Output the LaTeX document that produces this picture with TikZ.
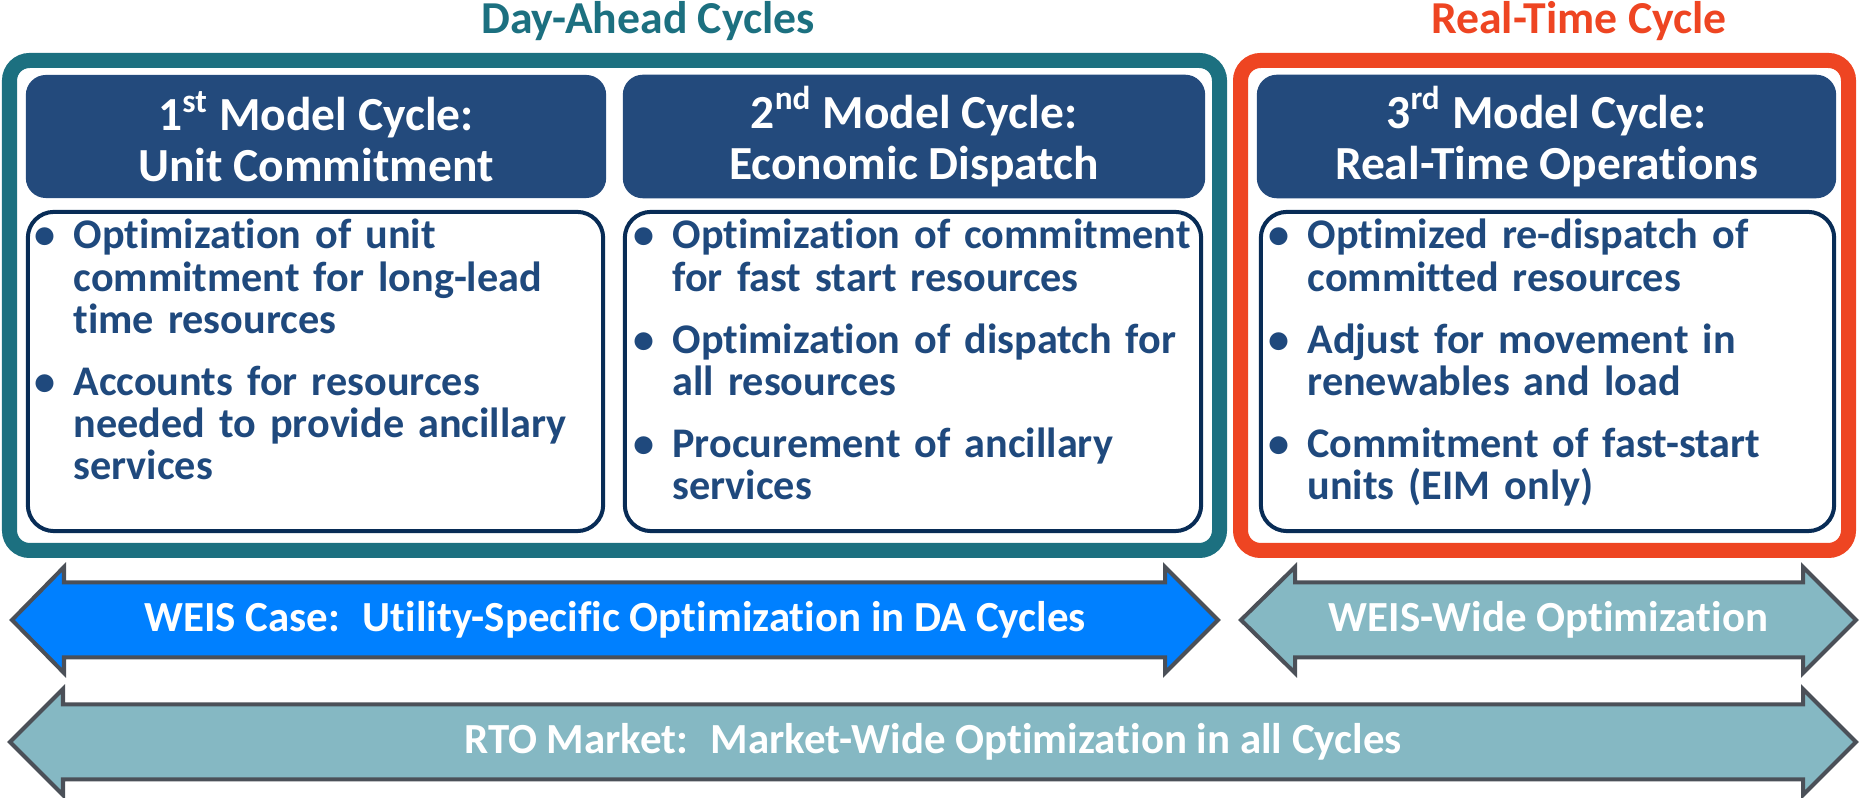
\documentclass[tikz,border=0pt]{standalone}
\usepackage{fontspec}
\setmainfont{Carlito}[Ligatures=NoCommon]
\usetikzlibrary{positioning}

\definecolor{dateal}{RGB}{28,112,128}
\definecolor{rtred}{RGB}{238,69,34}
\definecolor{headblue}{RGB}{35,74,124}
\definecolor{boxnavy}{RGB}{8,44,86}
\definecolor{textblue}{RGB}{31,73,125}
\definecolor{weisblue}{RGB}{0,128,255}
\definecolor{paleteal}{RGB}{133,184,195}
\definecolor{bandgrey}{RGB}{75,80,88}

% one bullet point, wrapped lines hang under the text
\newcommand{\bul}[1]{\hangindent=11.1pt\hangafter=1\noindent\makebox[11.1pt][l]{\textbullet}#1\par\vspace{5.7pt}}

\begin{document}
\begin{tikzpicture}[x=0.01cm, y=-0.01cm,
        cycletitle/.style={font=\fontsize{13}{15}\selectfont\bfseries, text height=0.63em, text depth=0pt, inner sep=0pt},
        daframe/.style={draw=dateal, line width=4.27pt, rounded corners=5.7pt},
        rtframe/.style={draw=rtred, line width=4.27pt, rounded corners=5.7pt},
        head/.style={fill=headblue, rounded corners=5.7pt, text=white, align=center, minimum height=1.23cm, font=\fontsize{13.5}{14.5}\selectfont\bfseries},
        body/.style={draw=boxnavy, line width=1.14pt, fill=white, rounded corners=7.4pt, minimum height=3.19cm},
        bullets/.style={text=textblue, text width=170pt, align=left, inner sep=0pt, anchor=base west, font=\fontsize{12}{12}\selectfont\bfseries},
        band/.style={draw=bandgrey, line width=1.14pt, line join=miter},
        bandtext/.style={text=white, font=\fontsize{12.2}{14}\selectfont\bfseries, text height=0.63em, text depth=0pt, inner sep=0pt}
    ]

    \useasboundingbox (0,0) rectangle (1860,798);

    % cycle titles and frames
    \node[cycletitle, text=dateal] (datitle) at (648,22) {Day-Ahead Cycles};
    \node[cycletitle, text=rtred] (rttitle) at (1579,22) {Real-Time Cycle};

    \draw[daframe] (9.5,60.5) rectangle (1219.5,550.5);
    \draw[rtframe] (1240.5,60.5) rectangle (1848.5,550.5);

    % model cycle headers
    \node[head, minimum width=5.80cm] (h1) at (316,136.5) {1\textsuperscript{st} Model Cycle:\\Unit Commitment};
    \node[head, minimum width=5.82cm] (h2) at (914,136.5) {2\textsuperscript{nd} Model Cycle:\\Economic Dispatch};
    \node[head, minimum width=5.79cm] (h3) at (1546.5,136.5) {3\textsuperscript{rd} Model Cycle:\\Real-Time Operations};

    % bullet boxes
    \node[body, minimum width=5.75cm] (b1) at (315.5,371.5) {};
    \node[body, minimum width=5.76cm] (b2) at (913,371.5) {};
    \node[body, minimum width=5.73cm] (b3) at (1547.5,371.5) {};

    \node[bullets] (l1) at ([shift={(8,39)}]b1.north west) {%
        \bul{Optimization of unit\newline commitment for long-lead\newline time resources}%
        \bul{Accounts for resources\newline needed to provide ancillary\newline services}};
    \node[bullets] (l2) at ([shift={(10,39)}]b2.north west) {%
        \bul{Optimization of commitment\newline for fast start resources}%
        \bul{Optimization of dispatch for\newline all resources}%
        \bul{Procurement of ancillary\newline services}};
    \node[bullets] (l3) at ([shift={(9,39)}]b3.north west) {%
        \bul{Optimized re-dispatch of\newline committed resources}%
        \bul{Adjust for movement in\newline renewables and load}%
        \bul{Commitment of fast-start\newline units (EIM only)}};

    % optimization scope bands
    \draw[band, fill=weisblue] (12,620) -- (64,567) -- (64,582.5) -- (1165,582.5) -- (1165,567) -- (1218,620)
        -- (1165,673) -- (1165,657.5) -- (64,657.5) -- (64,673) -- cycle;
    \node[bandtext] (weis) at (615,620) {WEIS Case:~ Utility-Specific Optimization in DA Cycles};

    \draw[band, fill=paleteal] (1241,620) -- (1295,567) -- (1295,582.5) -- (1803,582.5) -- (1803,567) -- (1856,620)
        -- (1803,673) -- (1803,657.5) -- (1295,657.5) -- (1295,673) -- cycle;
    \node[bandtext] (weiswide) at (1548.5,620) {WEIS-Wide Optimization};

    \draw[band, fill=paleteal] (10,742) -- (63,689) -- (63,704.5) -- (1803,704.5) -- (1803,689) -- (1856,742)
        -- (1803,795) -- (1803,779.5) -- (63,779.5) -- (63,795) -- cycle;
    \node[bandtext] (rto) at (933,742) {RTO Market:~ Market-Wide Optimization in all Cycles};

\end{tikzpicture}
\end{document}
